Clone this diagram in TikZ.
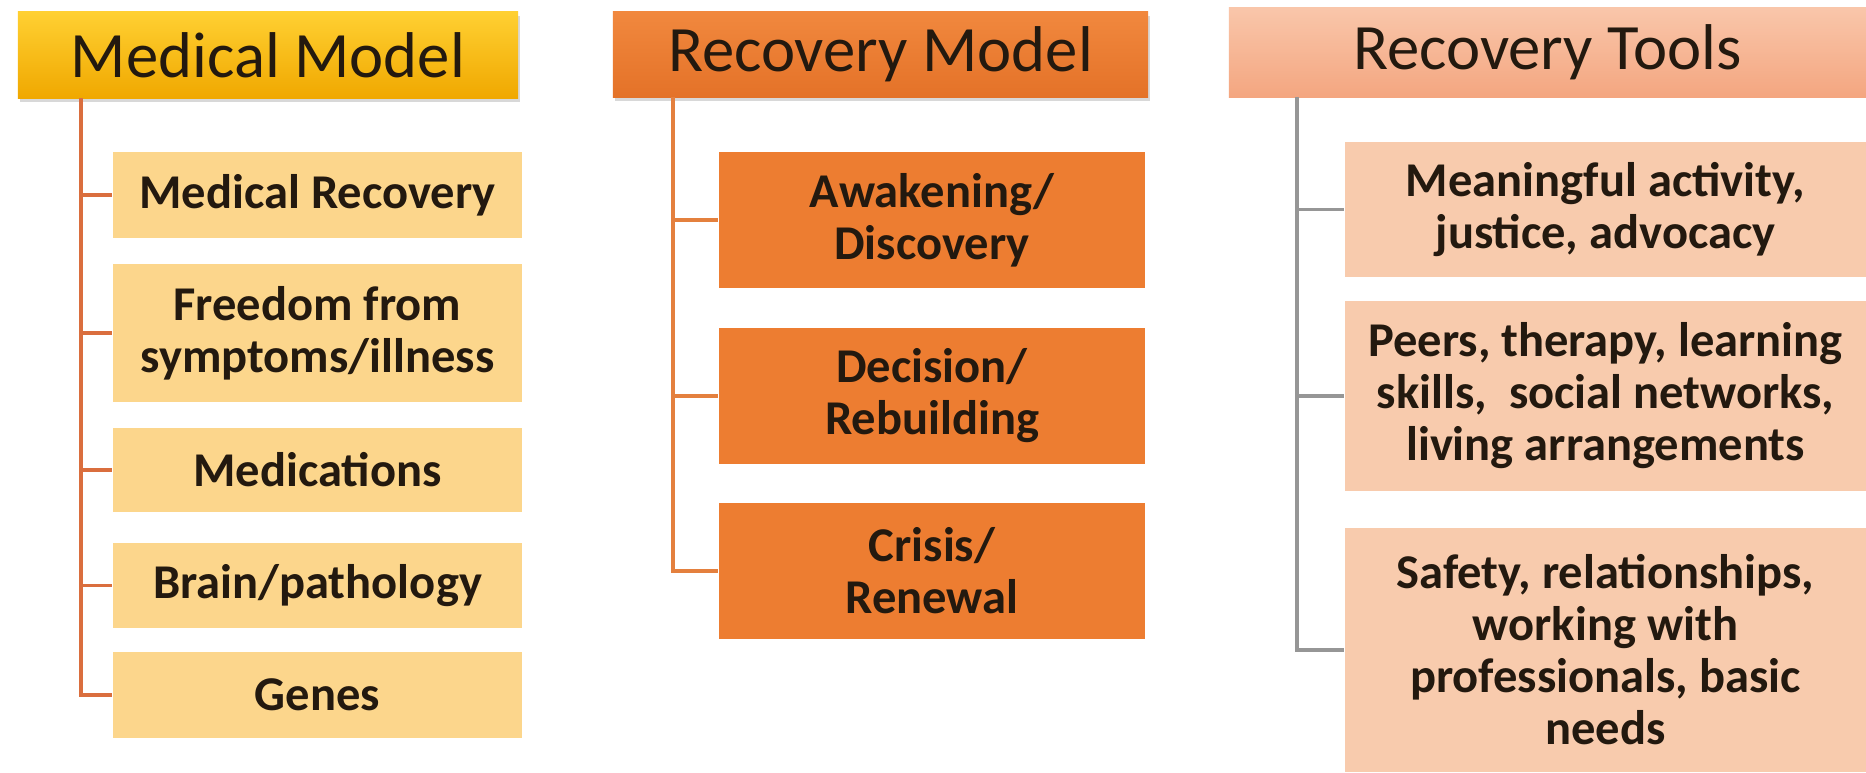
\documentclass[tikz,border=0pt]{standalone}
\usepackage{fontspec}
\setmainfont{Carlito}
\usetikzlibrary{shadows}

\definecolor{inkdark}{RGB}{35,25,15}
\definecolor{goldtop}{RGB}{255,208,50}
\definecolor{goldbot}{RGB}{240,168,0}
\definecolor{goldsub}{RGB}{252,214,140}
\definecolor{goldline}{RGB}{218,110,62}
\definecolor{orgtop}{RGB}{241,136,62}
\definecolor{orgbot}{RGB}{228,114,40}
\definecolor{orgsub}{RGB}{237,125,49}
\definecolor{orgline}{RGB}{228,128,62}
\definecolor{peachtop}{RGB}{249,198,170}
\definecolor{peachbot}{RGB}{244,166,128}
\definecolor{peachsub}{RGB}{248,203,173}
\definecolor{greyline}{RGB}{150,150,150}

\tikzset{
  header/.style={inner sep=0pt, text=inkdark,
    font=\fontsize{18.4}{22}\selectfont},
  subbox/.style={inner sep=0pt, align=center, text=inkdark,
    font=\fontsize{13.8}{14.8}\selectfont\bfseries},
  hdrgold/.style={header, top color=goldtop, bottom color=goldbot,
    drop shadow={opacity=0.3, shadow xshift=0.6pt, shadow yshift=-1.2pt}},
  hdrorange/.style={header, top color=orgtop, bottom color=orgbot,
    drop shadow={opacity=0.3, shadow xshift=0.6pt, shadow yshift=-1.2pt}},
  hdrpeach/.style={header, top color=peachtop, bottom color=peachbot},
  subgold/.style={subbox, fill=goldsub, minimum width=4.09cm},
  suborange/.style={subbox, fill=orgsub, minimum width=4.26cm},
  subpeach/.style={subbox, fill=peachsub, minimum width=5.21cm},
  linkgold/.style={draw=goldline, line width=1pt},
  linkorange/.style={draw=orgline, line width=1pt},
  linkgrey/.style={draw=greyline, line width=1pt},
}

\begin{document}
\begin{tikzpicture}[x=0.01cm, y=-0.01cm]
\useasboundingbox (0,0) rectangle (1866,772);
\fill[white] (0,0) rectangle (1866,772);

% Medical Model column
\node[hdrgold, minimum width=5.00cm, minimum height=0.86cm] (h1) at (268,55) {Medical Model};
\node[subgold, minimum height=0.86cm] (m1) at (317.5,195) {Medical Recovery};
\node[subgold, minimum height=1.38cm] (m2) at (317.5,333) {Freedom from\\symptoms/illness};
\node[subgold, minimum height=0.84cm] (m3) at (317.5,470) {Medications};
\node[subgold, minimum height=0.85cm] (m4) at (317.5,585.5) {Brain/pathology};
\node[subgold, minimum height=0.86cm] (m5) at (317.5,695) {Genes};
\coordinate (c1) at (81,98);
\draw[linkgold] (c1) |- (m5.west);
\foreach \k in {m1,m2,m3,m4} \draw[linkgold] (c1 |- \k.west) -- (\k.west);

% Recovery Model column
\node[hdrorange, minimum width=5.35cm, minimum height=0.85cm] (h2) at (880.5,54.5) {Recovery Model};
\node[suborange, minimum height=1.36cm] (r1) at (932,220) {Awakening/\\Discovery};
\node[suborange, minimum height=1.36cm] (r2) at (932,396) {Decision/\\Rebuilding};
\node[suborange, minimum height=1.36cm] (r3) at (932,571) {Crisis/\\Renewal};
\coordinate (c2) at (673,97);
\draw[linkorange] (c2) |- (r3.west);
\foreach \k in {r1,r2} \draw[linkorange] (c2 |- \k.west) -- (\k.west);

% Recovery Tools column
\node[hdrpeach, minimum width=6.37cm, minimum height=0.89cm] (h3) at (1547.5,52.5) {Recovery Tools};
\node[subpeach, minimum height=1.35cm] (t1) at (1605.5,209.5) {Meaningful activity,\\justice, advocacy};
\node[subpeach, minimum height=1.90cm] (t2) at (1605.5,396) {Peers, therapy, learning\\skills,\ \ social networks,\\living arrangements};
\node[subpeach, minimum height=2.44cm] (t3) at (1605.5,650) {Safety, relationships,\\working with\\professionals, basic\\needs};
\coordinate (c3) at (1297,97);
\draw[linkgrey] (c3) |- (t3.west);
\foreach \k in {t1,t2} \draw[linkgrey] (c3 |- \k.west) -- (\k.west);
\end{tikzpicture}
\end{document}
